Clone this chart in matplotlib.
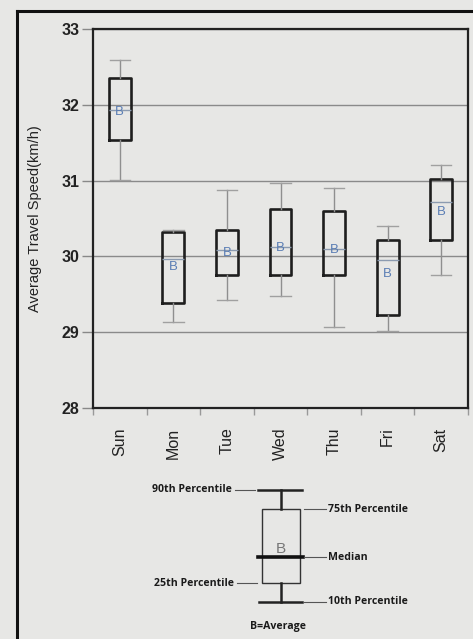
import matplotlib
matplotlib.use("Agg")
import matplotlib.pyplot as plt
from matplotlib.lines import Line2D
from matplotlib.patches import Rectangle

# Travel speed distribution per weekday (km/h)
days = ["Sun", "Mon", "Tue", "Wed", "Thu", "Fri", "Sat"]
p10 = [31.01, 29.13, 29.42, 29.48, 29.07, 29.01, 29.75]
p25 = [31.53, 29.39, 29.75, 29.75, 29.75, 29.23, 30.21]
median = [31.93, 29.96, 30.08, 30.12, 30.10, 29.95, 30.72]
p75 = [32.35, 30.32, 30.35, 30.62, 30.60, 30.22, 31.02]
p90 = [32.59, 30.35, 30.88, 30.97, 30.90, 30.40, 31.21]
average = [31.90, 29.86, 30.04, 30.11, 30.08, 29.77, 30.59]

y_ticks = [28, 29, 30, 31, 32, 33]

BG = "#e7e7e5"
W, H = 473, 639

fig = plt.figure(figsize=(W / 100, H / 100), dpi=100, facecolor=BG)
plt.rcParams["font.family"] = ["Liberation Sans", "DejaVu Sans"]

ax = fig.add_axes([93 / W, 1 - 408 / H, (468 - 93) / W, (408 - 29) / H])
ax.set_facecolor(BG)

stats = []
for i in range(len(days)):
    stats.append(dict(whislo=p10[i], q1=p25[i], med=median[i], q3=p75[i],
                      whishi=p90[i], mean=average[i], label=days[i]))
positions = [i + 0.5 for i in range(len(days))]

ax.bxp(stats, positions=positions, widths=0.41, showmeans=False,
       showfliers=False, patch_artist=False,
       boxprops=dict(color="#1e1e1e", linewidth=1.9),
       whiskerprops=dict(color="#8f8f8f", linewidth=1.0),
       capprops=dict(color="#a0a0a0", linewidth=1.0),
       medianprops=dict(color="#8c9bb0", linewidth=1.0),
       capwidths=0.38, zorder=3)

for x, m in zip(positions, average):
    ax.text(x, m, "B", color="#5a7db4", fontsize=9.5, ha="center",
            va="center", zorder=4)

ax.set_xlim(0, len(days))
ax.set_ylim(28, 33)
ax.set_yticks(y_ticks)
ax.set_yticklabels([str(t) for t in y_ticks], fontsize=11.5,
                   fontweight="bold", color="#222222")
ax.tick_params(axis="y", direction="out", length=8, width=1,
               color="#888888", pad=2)
ax.grid(axis="y", color="#8a8a8a", linewidth=1.0)
ax.set_axisbelow(True)

ax.set_xticks(range(len(days) + 1))
ax.set_xticklabels([])
ax.set_xticks(positions, minor=True)
ax.set_xticklabels(days, minor=True, rotation=90, fontsize=11.5,
                   color="#222222", va="top")
ax.tick_params(axis="x", which="major", direction="out", length=5,
               width=1, color="#999999")
ax.tick_params(axis="x", which="minor", length=0, pad=14)

for s in ax.spines.values():
    s.set_color("#222222")
    s.set_linewidth(1.6)

ax.set_ylabel("Average Travel Speed(km/h)", fontsize=10.5,
              color="#222222", labelpad=14)

# outer frame
fig.add_artist(Line2D([17 / W, 17 / W], [0, 1 - 11 / H],
                      transform=fig.transFigure, color="#111111", lw=2.2))
fig.add_artist(Line2D([17 / W, 1], [1 - 11 / H, 1 - 11 / H],
                      transform=fig.transFigure, color="#111111", lw=2.2))

# key explaining the box symbol, laid out in pixel coordinates
key = fig.add_axes([0, 0, 1, 1 - 470 / H], facecolor="none")
key.set_xlim(0, W)
key.set_ylim(H - 470, 0)
key.axis("off")

ky = {"p90": 20, "p75": 39, "med": 87, "p25": 113, "p10": 132}
cx, bl, br = 281, 262, 300
kfont = dict(fontsize=7.6, fontweight="bold", color="#1a1a1a",
             family=["Open Sans", "DejaVu Sans"], va="center")
key.add_patch(Rectangle((bl, ky["p75"]), br - bl, ky["p25"] - ky["p75"],
                        fill=False, edgecolor="#333333", lw=1.0))
key.plot([cx, cx], [ky["p90"], ky["p75"]], color="#222222", lw=1.8)
key.plot([cx, cx], [ky["p25"], ky["p10"]], color="#222222", lw=1.8)
key.plot([258, 302], [ky["p90"], ky["p90"]], color="#222222", lw=1.8)
key.plot([259, 302], [ky["p10"], ky["p10"]], color="#222222", lw=1.8)
key.plot([258, 303], [ky["med"], ky["med"]], color="#111111", lw=2.6)
key.text(cx, ky["med"] - 1, "B", fontsize=11, color="#777777",
         ha="center", va="bottom")

key.plot([235, 255], [ky["p90"], ky["p90"]], color="#555555", lw=0.8)
key.text(232, ky["p90"], "90th Percentile", ha="right", **kfont)
key.plot([237, 257], [ky["p25"], ky["p25"]], color="#555555", lw=0.8)
key.text(234, ky["p25"], "25th Percentile", ha="right", **kfont)
for k, lab in [("p75", "75th Percentile"), ("med", "Median"),
               ("p10", "10th Percentile")]:
    key.plot([304, 326], [ky[k], ky[k]], color="#555555", lw=0.8)
    key.text(328, ky[k], lab, ha="left", **kfont)
key.text(cx - 3, 156, "B=Average", ha="center", **kfont)

fig.savefig("out.png", dpi=100, facecolor=BG)
